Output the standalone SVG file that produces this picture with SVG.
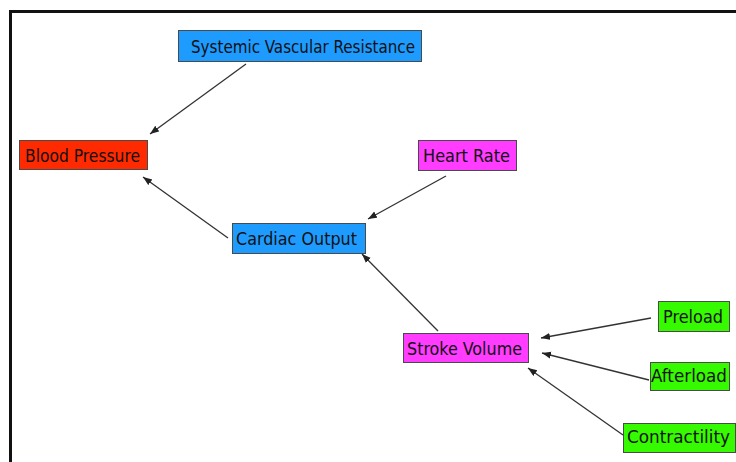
<svg xmlns="http://www.w3.org/2000/svg" width="736" height="462" viewBox="0 0 736 462">
<style>
.node rect{stroke:#4a4a4a;stroke-width:1}
.blue rect{fill:#1e9bff}
.red rect{fill:#ff2a00}
.mag rect{fill:#ff3cff}
.green rect{fill:#36fa00}
.node text{font-family:"DejaVu Sans Condensed","DejaVu Sans",sans-serif;font-size:18px;fill:#111;text-anchor:middle}
#connectors line{stroke:#333;stroke-width:1.3;marker-end:url(#ah)}
</style>
<defs>
<marker id="ah" markerUnits="userSpaceOnUse" markerWidth="10" markerHeight="8" refX="9" refY="3.5" orient="auto">
<path d="M0,0 L9,3.5 L0,7 z" fill="#222"/>
</marker>
</defs>
<rect x="0" y="0" width="736" height="462" fill="#fff"/>
<path d="M10.5,470 V11.5 H745" fill="none" stroke="#111" stroke-width="3"/>
<g id="connectors">
<line x1="246" y1="64" x2="150" y2="134"/>
<line x1="228" y1="238" x2="143" y2="177"/>
<line x1="446" y1="176" x2="368" y2="219"/>
<line x1="438" y1="331" x2="362" y2="254"/>
<line x1="651" y1="318" x2="541" y2="338"/>
<line x1="649" y1="380" x2="542" y2="353"/>
<line x1="623" y1="435" x2="528" y2="368"/>
</g>
<g id="svr" class="node blue"><rect x="178.5" y="30.5" width="243" height="31"/><text x="303" y="53" textLength="224" lengthAdjust="spacingAndGlyphs">Systemic Vascular Resistance</text></g>
<g id="bp" class="node red"><rect x="19.5" y="140.5" width="128" height="29"/><text x="82.5" y="162" textLength="115" lengthAdjust="spacingAndGlyphs">Blood Pressure</text></g>
<g id="co" class="node blue"><rect x="232.5" y="223.5" width="133" height="30"/><text x="296.5" y="245" textLength="121" lengthAdjust="spacingAndGlyphs">Cardiac Output</text></g>
<g id="hr" class="node mag"><rect x="418.5" y="140.5" width="98" height="30"/><text x="466.5" y="162" textLength="87" lengthAdjust="spacingAndGlyphs">Heart Rate</text></g>
<g id="sv" class="node mag"><rect x="403.5" y="333.5" width="125" height="29"/><text x="464.5" y="355" textLength="115" lengthAdjust="spacingAndGlyphs">Stroke Volume</text></g>
<g id="preload" class="node green"><rect x="658.5" y="301.5" width="71" height="30"/><text x="693" y="323" textLength="60" lengthAdjust="spacingAndGlyphs">Preload</text></g>
<g id="afterload" class="node green"><rect x="650.5" y="362.5" width="79" height="28"/><text x="689" y="382" textLength="76" lengthAdjust="spacingAndGlyphs">Afterload</text></g>
<g id="contractility" class="node green"><rect x="623.5" y="423.5" width="112" height="29"/><text x="678.5" y="443" textLength="103" lengthAdjust="spacingAndGlyphs">Contractility</text></g>
</svg>
